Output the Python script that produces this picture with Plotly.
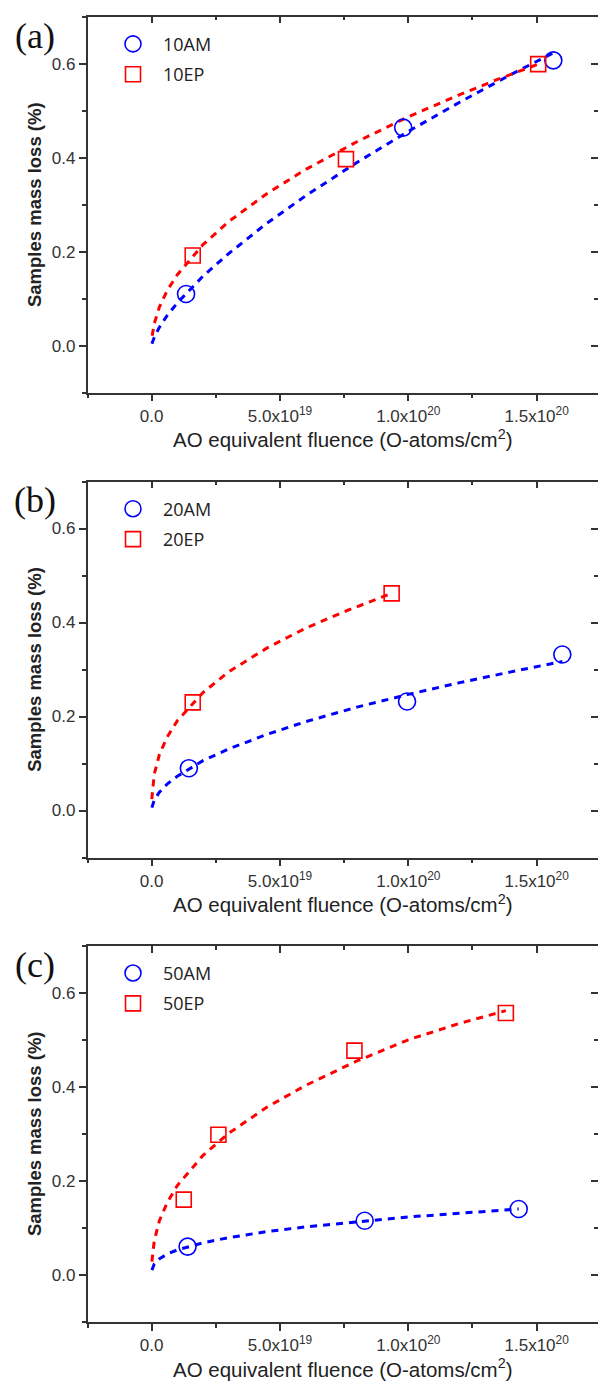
import plotly.graph_objects as go

# ---------------- data (fluence in O-atoms/cm2, mass loss in %) ----------------
# panel (a)
a_am_x = [1.34e19, 9.80e19, 1.565e20]
a_am_y = [0.110, 0.464, 0.607]
a_ep_x = [1.60e19, 7.57e19, 1.506e20]
a_ep_y = [0.192, 0.397, 0.599]
a_am_fit_x = [0.01e19, 0.1e19, 0.3e19, 0.6e19, 1e19, 2e19, 3e19, 4.5e19, 6e19, 8e19, 10e19, 12e19, 14e19, 15.65e19]
a_am_fit_y = [0.004, 0.018, 0.039, 0.064, 0.091, 0.148, 0.196, 0.261, 0.319, 0.390, 0.456, 0.518, 0.577, 0.623]
a_ep_fit_x = [0.02e19, 0.1e19, 0.3e19, 0.6e19, 1e19, 2e19, 3e19, 4.5e19, 6e19, 8e19, 10e19, 12e19, 13.5e19, 15.06e19]
a_ep_fit_y = [0.021, 0.047, 0.082, 0.117, 0.151, 0.215, 0.264, 0.324, 0.375, 0.434, 0.487, 0.534, 0.567, 0.599]

# panel (b)
b_am_x = [1.45e19, 9.95e19, 1.60e20]
b_am_y = [0.090, 0.232, 0.332]
b_ep_x = [1.60e19, 9.35e19]
b_ep_y = [0.230, 0.462]
b_am_fit_x = [0.01e19, 0.1e19, 0.3e19, 0.6e19, 1e19, 2e19, 3e19, 4.5e19, 6e19, 8e19, 10e19, 12e19, 14e19, 16e19]
b_am_fit_y = [0.006, 0.022, 0.039, 0.056, 0.073, 0.106, 0.131, 0.162, 0.189, 0.220, 0.247, 0.272, 0.295, 0.317]
b_ep_fit_x = [0.005e19, 0.1e19, 0.3e19, 0.6e19, 1e19, 2e19, 3e19, 4.5e19, 6e19, 7.5e19, 9.35e19]
b_ep_fit_y = [0.024, 0.077, 0.119, 0.156, 0.191, 0.251, 0.295, 0.346, 0.388, 0.423, 0.462]

# panel (c)
c_am_x = [1.40e19, 8.30e19, 1.43e20]
c_am_y = [0.060, 0.115, 0.140]
c_ep_x = [1.25e19, 2.60e19, 7.90e19, 1.38e20]
c_ep_y = [0.160, 0.298, 0.477, 0.557]
c_am_fit_x = [0.01e19, 0.1e19, 0.3e19, 0.6e19, 1e19, 2e19, 3e19, 4.5e19, 6e19, 8e19, 10e19, 12e19, 14.3e19]
c_am_fit_y = [0.010, 0.023, 0.034, 0.044, 0.053, 0.068, 0.079, 0.092, 0.102, 0.113, 0.123, 0.131, 0.140]
c_ep_fit_x = [0.01e19, 0.1e19, 0.3e19, 0.6e19, 1e19, 2e19, 3e19, 4.5e19, 6e19, 8e19, 10e19, 12e19, 13.8e19]
c_ep_fit_y = [0.028, 0.072, 0.115, 0.153, 0.190, 0.254, 0.301, 0.357, 0.403, 0.455, 0.500, 0.535, 0.562]

panel_labels = ["(a)", "(b)", "(c)"]
legend_names = [("10AM", "10EP"), ("20AM", "20EP"), ("50AM", "50EP")]

x_tickvals = [0, 5e19, 1e20, 1.5e20]
x_ticktext = ["0.0", "5.0x10<sup>19</sup>", "1.0x10<sup>20</sup>", "1.5x10<sup>20</sup>"]
y_tickvals = [0.0, 0.2, 0.4, 0.6]
y_ticktext = ["0.0", "0.2", "0.4", "0.6"]

x_title = "AO equivalent fluence (O-atoms/cm<sup>2</sup>)"
y_title = "<b>Samples mass loss (%)</b>"

# ---------------- layout geometry ----------------
W, H = 598, 1389
BLUE = "#0000FF"
RED = "#FF0000"
AXC = "#333333"

panels = [
    (a_am_x, a_am_y, a_ep_x, a_ep_y, a_am_fit_x, a_am_fit_y, a_ep_fit_x, a_ep_fit_y),
    (b_am_x, b_am_y, b_ep_x, b_ep_y, b_am_fit_x, b_am_fit_y, b_ep_fit_x, b_ep_fit_y),
    (c_am_x, c_am_y, c_ep_x, c_ep_y, c_am_fit_x, c_am_fit_y, c_ep_fit_x, c_ep_fit_y),
]
tops_px = [16.7, 481.5, 945.8]
plot_h_px = 376.0
left_px = 87.5
x_range = [-2.5e19, 1.739e20]
y_range = [-0.1, 0.7]

fig = go.Figure()
layout = dict(
    width=W, height=H,
    margin=dict(l=0, r=0, t=0, b=0),
    paper_bgcolor="white", plot_bgcolor="white",
    showlegend=True,
)

tickfont = dict(family="Liberation Sans, Arial", size=17, color=AXC)

for i, (amx, amy, epx, epy, afx, afy, efx, efy) in enumerate(panels):
    n = i + 1
    xa = "x" if n == 1 else f"x{n}"
    ya = "y" if n == 1 else f"y{n}"
    lg = "legend" if n == 1 else f"legend{n}"
    top = tops_px[i]
    dom = [1 - (top + plot_h_px) / H, 1 - top / H]

    fig.add_trace(go.Scatter(x=afx, y=afy, mode="lines", xaxis=xa, yaxis=ya,
                             line=dict(color=BLUE, width=3, dash="7px,6px"),
                             showlegend=False, hoverinfo="skip"))
    fig.add_trace(go.Scatter(x=efx, y=efy, mode="lines", xaxis=xa, yaxis=ya,
                             line=dict(color=RED, width=3, dash="7px,6px"),
                             showlegend=False, hoverinfo="skip"))
    fig.add_trace(go.Scatter(x=amx, y=amy, mode="markers", xaxis=xa, yaxis=ya,
                             name=legend_names[i][0], legend=lg, legendgroup=f"am{n}",
                             marker=dict(symbol="circle-open", size=17,
                                         line=dict(color=BLUE, width=1.6), color=BLUE)))
    fig.add_trace(go.Scatter(x=epx, y=epy, mode="markers", xaxis=xa, yaxis=ya,
                             name=legend_names[i][1], legend=lg, legendgroup=f"ep{n}",
                             marker=dict(symbol="square-open", size=15,
                                         line=dict(color=RED, width=1.6), color=RED)))

    xkey = "xaxis" if n == 1 else f"xaxis{n}"
    ykey = "yaxis" if n == 1 else f"yaxis{n}"
    layout[xkey] = dict(
        domain=[left_px / W, 1.0], anchor=ya, range=x_range,
        tickmode="array", tickvals=x_tickvals, ticktext=x_ticktext,
        ticks="outside", ticklen=7, tickwidth=1.5, tickcolor=AXC,
        minor=dict(ticks="outside", dtick=2.5e19, tick0=0, ticklen=4, tickwidth=1.5, tickcolor=AXC),
        showline=True, linecolor=AXC, linewidth=1.5, mirror=False,
        showgrid=False, zeroline=False, tickfont=tickfont,
        title=dict(text=x_title, standoff=6,
                   font=dict(family="Liberation Sans, Arial", size=20.5, color="#222222")),
    )
    layout[ykey] = dict(
        domain=dom, anchor=xa, range=y_range,
        tickmode="array", tickvals=y_tickvals, ticktext=y_ticktext,
        ticks="outside", ticklen=7, tickwidth=1.5, tickcolor=AXC,
        minor=dict(ticks="outside", dtick=0.1, tick0=0, ticklen=4, tickwidth=1.5, tickcolor=AXC),
        showline=True, linecolor=AXC, linewidth=1.5, mirror=False,
        showgrid=False, zeroline=False, tickfont=tickfont,
        title=dict(text=y_title, standoff=5,
                   font=dict(family="Liberation Sans, Arial", size=18.5, color="#222222")),
    )
    # mirrored top / right axes with inward ticks
    xt = 3 + n
    yt = 3 + n
    layout[f"xaxis{xt}"] = dict(
        overlaying=xa, anchor=ya, side="top", range=x_range,
        tickmode="array", tickvals=x_tickvals, showticklabels=False,
        ticks="inside", ticklen=7, tickwidth=1.5, tickcolor=AXC,
        minor=dict(ticks="inside", dtick=2.5e19, tick0=0, ticklen=4, tickwidth=1.5, tickcolor=AXC),
        showline=True, linecolor=AXC, linewidth=1.5,
        showgrid=False, zeroline=False,
    )
    layout[f"yaxis{yt}"] = dict(
        overlaying=ya, anchor=xa, side="right", range=y_range,
        tickmode="array", tickvals=y_tickvals, showticklabels=False,
        ticks="inside", ticklen=7, tickwidth=1.5, tickcolor=AXC,
        minor=dict(ticks="inside", dtick=0.1, tick0=0, ticklen=4, tickwidth=1.5, tickcolor=AXC),
        showline=False, showgrid=False, zeroline=False,
    )
    # dummy traces so the mirrored axes are drawn
    fig.add_trace(go.Scatter(x=[None], y=[None], xaxis=f"x{xt}", yaxis=ya,
                             showlegend=False, hoverinfo="skip"))
    fig.add_trace(go.Scatter(x=[None], y=[None], xaxis=xa, yaxis=f"y{yt}",
                             showlegend=False, hoverinfo="skip"))

    layout[lg] = dict(
        x=(103) / W, y=1 - (top + 9) / H, xanchor="left", yanchor="top",
        bgcolor="rgba(0,0,0,0)", borderwidth=0, itemwidth=50,
        tracegroupgap=4,
        font=dict(family="Open Sans, Noto Sans", size=18, color="#222222"),
    )

    fig.add_annotation(text=panel_labels[i], xref="paper", yref="paper",
                       x=35 / W, y=1 - (top + 19) / H, xanchor="center", yanchor="middle",
                       showarrow=False,
                       font=dict(family="Liberation Serif, Times New Roman", size=36, color="#111111"))

fig.update_layout(**layout)
fig.write_html("out.html")
